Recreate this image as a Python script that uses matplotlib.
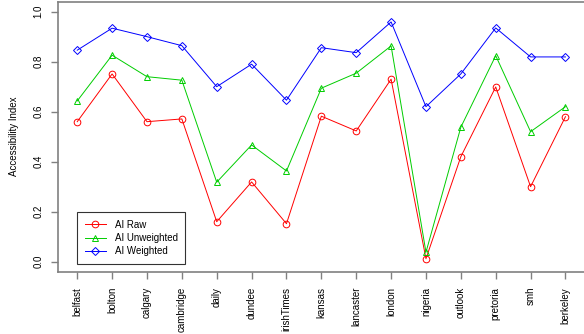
import matplotlib
matplotlib.use("Agg")
import matplotlib.pyplot as plt

sites = ["belfast", "bolton", "calgary", "cambridge", "daily", "dundee",
         "irishTimes", "kansas", "lancaster", "london", "nigeria", "outlook",
         "pretoria", "smh", "berkeley"]

ai_raw = [0.56, 0.751, 0.56, 0.571, 0.16, 0.319, 0.152, 0.582, 0.523,
          0.73, 0.012, 0.42, 0.699, 0.30, 0.58]
ai_unweighted = [0.643, 0.826, 0.74, 0.726, 0.318, 0.467, 0.363, 0.694,
                 0.754, 0.863, 0.038, 0.538, 0.824, 0.52, 0.62]
ai_weighted = [0.846, 0.934, 0.90, 0.864, 0.70, 0.79, 0.646, 0.856,
               0.836, 0.959, 0.62, 0.751, 0.935, 0.819, 0.819]

plt.rcParams["font.family"] = ["Liberation Sans", "DejaVu Sans"]

fig = plt.figure(figsize=(5.84, 3.34), dpi=100)
ax = fig.add_axes([0.0988, 0.1865, 0.9029, 0.8085])

x = list(range(1, len(sites) + 1))
lw = 0.7
ax.plot(x, ai_raw, color="#FF0000", lw=lw, marker="o", ms=4.8,
        mfc="none", mew=0.7, label="AI Raw")
ax.plot(x, ai_unweighted, color="#00CD00", lw=lw, marker="^", ms=5,
        mfc="none", mew=0.7, label="AI Unweighted")
ax.plot(x, ai_weighted, color="#0000FF", lw=lw, marker="D", ms=4,
        mfc="none", mew=0.7, label="AI Weighted")

ax.set_xlim(0.44, 15.56)
ax.set_ylim(-0.04, 1.04)
ax.set_xticks(x)
ax.set_xticklabels(sites, rotation=90, fontsize=7, va="top")
ax.set_yticks([0.0, 0.2, 0.4, 0.6, 0.8, 1.0])
ax.set_yticklabels(["0.0", "0.2", "0.4", "0.6", "0.8", "1.0"],
                   rotation=90, va="center", fontsize=7)
ax.set_ylabel("Accessibility Index", fontsize=7, labelpad=11)

spine_color = "#808080"
for side in ("left", "bottom", "top"):
    ax.spines[side].set_color(spine_color)
    ax.spines[side].set_linewidth(1.2)
ax.spines["right"].set_visible(False)
ax.tick_params(axis="both", direction="out", length=5, width=1,
               color=spine_color, labelcolor="#000000")
ax.tick_params(axis="x", pad=6)
ax.tick_params(axis="y", pad=5)

leg = ax.legend(loc="lower left", bbox_to_anchor=(0.0372, 0.0296),
                borderaxespad=0, fontsize=7, frameon=True, fancybox=False,
                handlelength=2.2, handletextpad=0.9, labelspacing=0.35,
                borderpad=0.75)
leg.get_frame().set_edgecolor("#000000")
leg.get_frame().set_linewidth(0.8)

fig.savefig("out.png", dpi=100)
